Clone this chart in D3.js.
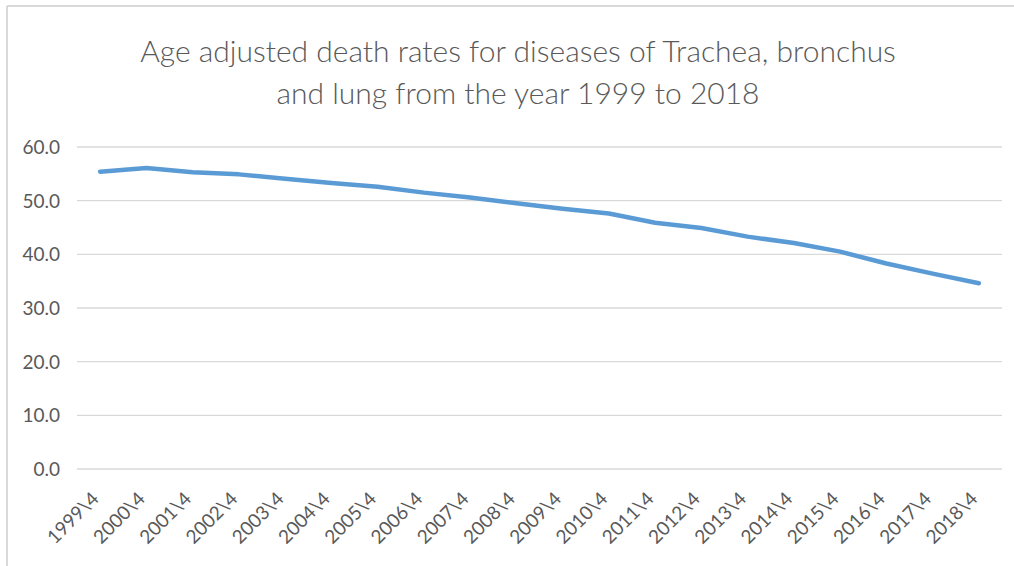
<!DOCTYPE html>
<html lang="en">
<head>
<meta charset="UTF-8">
<title>Age adjusted death rates</title>
<script src="https://d3js.org/d3.v7.min.js"></script>
<style>
  body { margin: 0; background: #fff; }
  svg { display: block; font-family: Lato, "Open Sans", sans-serif; }
</style>
</head>
<body>
<div id="chart"></div>
<script>
// data
const years = ["1999\\4", "2000\\4", "2001\\4", "2002\\4", "2003\\4", "2004\\4", "2005\\4",
  "2006\\4", "2007\\4", "2008\\4", "2009\\4", "2010\\4", "2011\\4", "2012\\4", "2013\\4",
  "2014\\4", "2015\\4", "2016\\4", "2017\\4", "2018\\4"];
const rates = [55.4, 56.1, 55.3, 54.9, 54.1, 53.3, 52.6, 51.5, 50.6, 49.5,
  48.5, 47.6, 45.9, 44.9, 43.3, 42.1, 40.5, 38.3, 36.4, 34.6];
const yTicks = [0, 10, 20, 30, 40, 50, 60];
const titleLines = ["Age adjusted death rates for diseases of Trachea, bronchus",
  "and lung from the year 1999 to 2018"];

const width = 1014, height = 566;
const margin = {top: 147, right: 12, bottom: 97, left: 77};

const svg = d3.select("#chart").append("svg")
    .attr("width", width)
    .attr("height", height);

// chart frame (only top and left edges are visible in the crop)
svg.append("line").attr("x1", 7).attr("x2", width).attr("y1", 6).attr("y2", 6)
    .attr("stroke", "#d9d9d9").attr("stroke-width", 2);
svg.append("line").attr("x1", 7).attr("x2", 7).attr("y1", 6).attr("y2", height)
    .attr("stroke", "#d9d9d9").attr("stroke-width", 2);

// title
svg.append("text")
    .attr("x", 518).attr("y", 62)
    .attr("text-anchor", "middle")
    .attr("fill", "#595959")
    .style("font-size", "30px")
    .style("font-weight", 300)
  .selectAll("tspan")
  .data(titleLines)
  .join("tspan")
    .attr("x", 518)
    .attr("dy", (d, i) => i ? 42 : 0)
    .text(d => d);

const x = d3.scaleBand()
    .domain(years)
    .range([margin.left, width - margin.right]);

const y = d3.scaleLinear()
    .domain([0, 60])
    .range([height - margin.bottom, margin.top]);

// gridlines
svg.append("g")
  .selectAll("line")
  .data(yTicks)
  .join("line")
    .attr("x1", margin.left)
    .attr("x2", width - margin.right)
    .attr("y1", d => y(d))
    .attr("y2", d => y(d))
    .attr("stroke", "#d9d9d9")
    .attr("stroke-width", 1.3);

// y labels
svg.append("g")
  .selectAll("text")
  .data(yTicks)
  .join("text")
    .attr("x", 60)
    .attr("y", d => y(d))
    .attr("dy", "0.36em")
    .attr("text-anchor", "end")
    .attr("fill", "#595959")
    .style("font-size", "19px")
    .text(d3.format(".1f"));

// x labels, rotated
svg.append("g")
  .selectAll("text")
  .data(years)
  .join("text")
    .attr("transform", d => `translate(${x(d) + x.bandwidth() / 2 - 5},${y(0) + 26}) rotate(-45)`)
    .attr("text-anchor", "end")
    .attr("dy", "0.36em")
    .attr("fill", "#595959")
    .style("font-size", "19px")
    .text(d => d);

// the line
const line = d3.line()
    .x((d, i) => x(years[i]) + x.bandwidth() / 2)
    .y(d => y(d));

svg.append("path")
    .datum(rates)
    .attr("d", line)
    .attr("fill", "none")
    .attr("stroke", "#5b9bd5")
    .attr("stroke-width", 4.5)
    .attr("stroke-linecap", "round")
    .attr("stroke-linejoin", "round");
</script>
</body>
</html>
